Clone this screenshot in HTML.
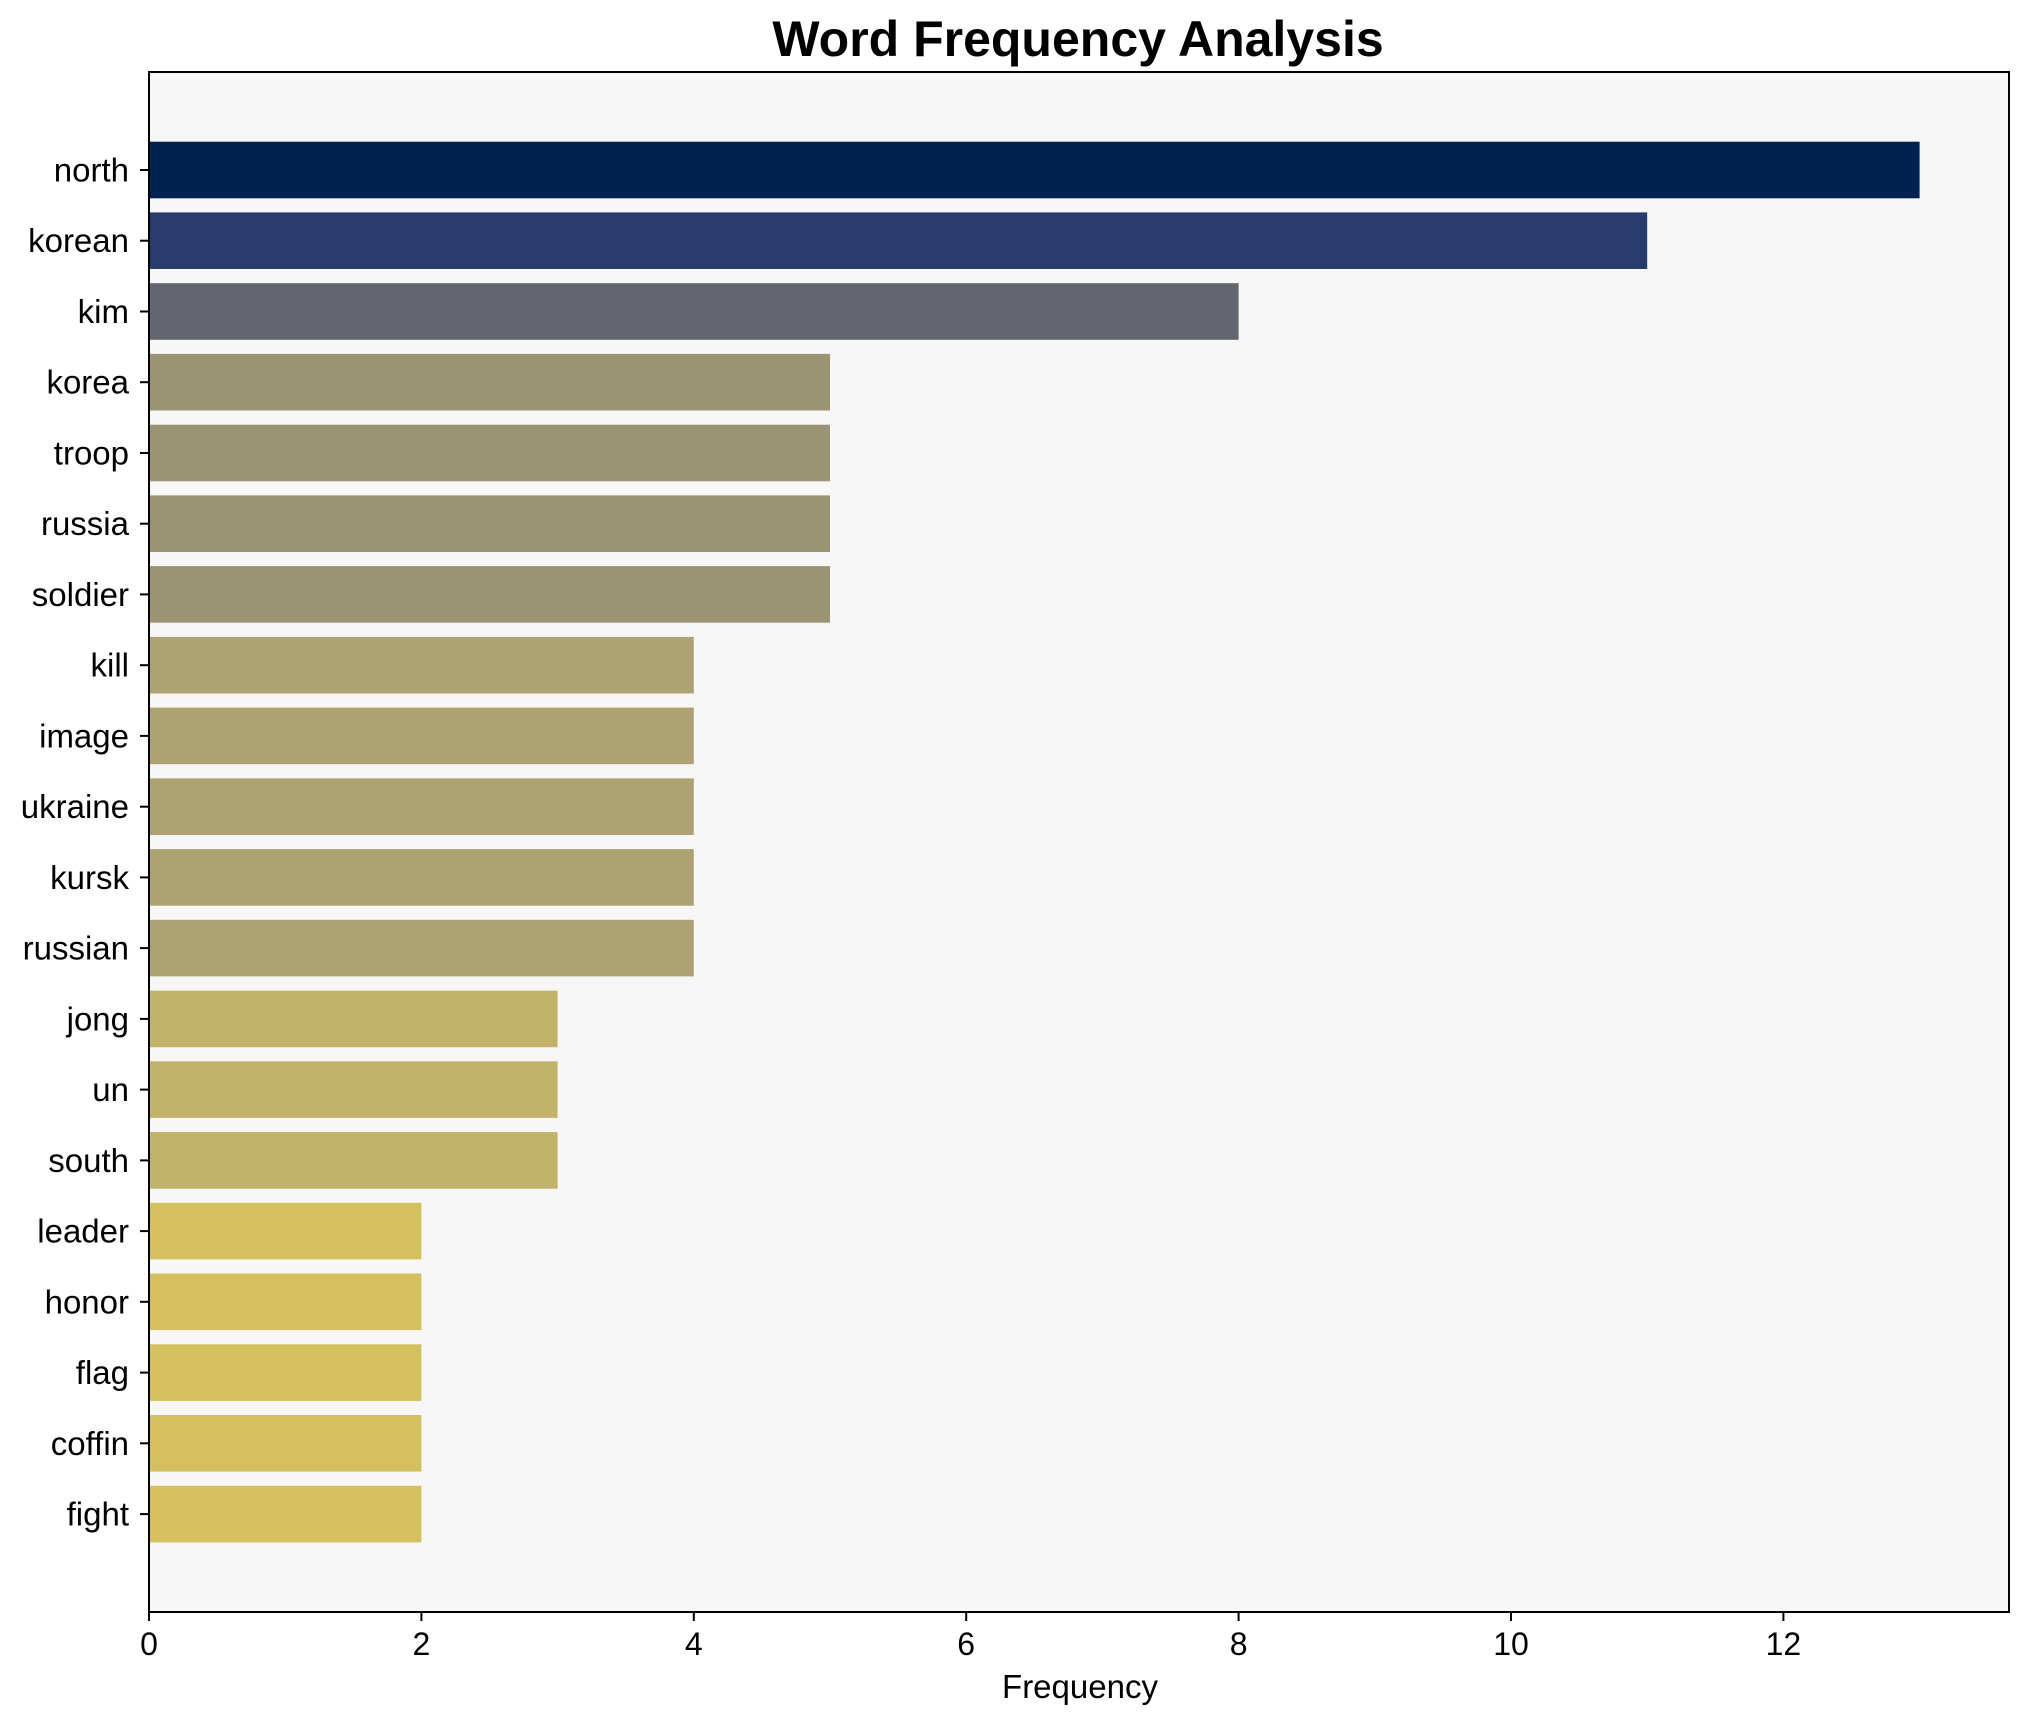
<!DOCTYPE html>
<html><head><meta charset="utf-8"><style>body{margin:0;background:#fff}</style></head><body>
<svg width="2028" height="1722" xmlns="http://www.w3.org/2000/svg" font-family="Liberation Sans, sans-serif">
<rect width="2028" height="1722" fill="#fff"/>
<rect x="149" y="72" width="1860" height="1540" fill="#f7f7f7"/>
<g>
<rect x="149" y="141.7" width="1770.6" height="56.6" fill="#012251"/>
<rect x="149" y="212.4" width="1498.2" height="56.6" fill="#273c6c"/>
<rect x="149" y="283.2" width="1089.6" height="56.6" fill="#63656f"/>
<rect x="149" y="353.9" width="681" height="56.6" fill="#9a9475"/>
<rect x="149" y="424.7" width="681" height="56.6" fill="#9a9475"/>
<rect x="149" y="495.4" width="681" height="56.6" fill="#9a9475"/>
<rect x="149" y="566.1" width="681" height="56.6" fill="#9a9475"/>
<rect x="149" y="636.9" width="544.8" height="56.6" fill="#ada271"/>
<rect x="149" y="707.6" width="544.8" height="56.6" fill="#ada271"/>
<rect x="149" y="778.4" width="544.8" height="56.6" fill="#ada271"/>
<rect x="149" y="849.1" width="544.8" height="56.6" fill="#ada271"/>
<rect x="149" y="919.8" width="544.8" height="56.6" fill="#ada271"/>
<rect x="149" y="990.6" width="408.6" height="56.6" fill="#c2b26a"/>
<rect x="149" y="1061.3" width="408.6" height="56.6" fill="#c2b26a"/>
<rect x="149" y="1132.1" width="408.6" height="56.6" fill="#c2b26a"/>
<rect x="149" y="1202.8" width="272.4" height="56.6" fill="#d4c05e"/>
<rect x="149" y="1273.5" width="272.4" height="56.6" fill="#d4c05e"/>
<rect x="149" y="1344.3" width="272.4" height="56.6" fill="#d4c05e"/>
<rect x="149" y="1415" width="272.4" height="56.6" fill="#d4c05e"/>
<rect x="149" y="1485.8" width="272.4" height="56.6" fill="#d4c05e"/>
</g>
<g stroke="#000" stroke-width="2">
<line x1="140" x2="149" y1="170" y2="170"/><line x1="140" x2="149" y1="240.7" y2="240.7"/><line x1="140" x2="149" y1="311.5" y2="311.5"/><line x1="140" x2="149" y1="382.2" y2="382.2"/><line x1="140" x2="149" y1="453" y2="453"/><line x1="140" x2="149" y1="523.7" y2="523.7"/><line x1="140" x2="149" y1="594.4" y2="594.4"/><line x1="140" x2="149" y1="665.2" y2="665.2"/><line x1="140" x2="149" y1="735.9" y2="735.9"/><line x1="140" x2="149" y1="806.7" y2="806.7"/><line x1="140" x2="149" y1="877.4" y2="877.4"/><line x1="140" x2="149" y1="948.1" y2="948.1"/><line x1="140" x2="149" y1="1018.9" y2="1018.9"/><line x1="140" x2="149" y1="1089.6" y2="1089.6"/><line x1="140" x2="149" y1="1160.4" y2="1160.4"/><line x1="140" x2="149" y1="1231.1" y2="1231.1"/><line x1="140" x2="149" y1="1301.8" y2="1301.8"/><line x1="140" x2="149" y1="1372.6" y2="1372.6"/><line x1="140" x2="149" y1="1443.3" y2="1443.3"/><line x1="140" x2="149" y1="1514.1" y2="1514.1"/>
<line x1="149" x2="149" y1="1612" y2="1621"/><line x1="421.4" x2="421.4" y1="1612" y2="1621"/><line x1="693.8" x2="693.8" y1="1612" y2="1621"/><line x1="966.2" x2="966.2" y1="1612" y2="1621"/><line x1="1238.6" x2="1238.6" y1="1612" y2="1621"/><line x1="1511" x2="1511" y1="1612" y2="1621"/><line x1="1783.4" x2="1783.4" y1="1612" y2="1621"/>
</g>
<g font-size="33" text-anchor="end">
<text x="129" y="181.5">north</text><text x="129" y="252.2">korean</text><text x="129" y="323">kim</text><text x="129" y="393.7">korea</text><text x="129" y="464.5">troop</text><text x="129" y="535.2">russia</text><text x="129" y="605.9">soldier</text><text x="129" y="676.7">kill</text><text x="129" y="747.4">image</text><text x="129" y="818.2">ukraine</text><text x="129" y="888.9">kursk</text><text x="129" y="959.6">russian</text><text x="129" y="1030.4">jong</text><text x="129" y="1101.1">un</text><text x="129" y="1171.9">south</text><text x="129" y="1242.6">leader</text><text x="129" y="1313.3">honor</text><text x="129" y="1384.1">flag</text><text x="129" y="1454.8">coffin</text><text x="129" y="1525.6">fight</text>
</g>
<g font-size="32" text-anchor="middle">
<text x="149" y="1655">0</text><text x="421.4" y="1655">2</text><text x="693.8" y="1655">4</text><text x="966.2" y="1655">6</text><text x="1238.6" y="1655">8</text><text x="1511" y="1655">10</text><text x="1783.4" y="1655">12</text>
</g>
<rect x="149" y="72" width="1860" height="1540" fill="none" stroke="#000" stroke-width="2"/>
<text x="1078" y="56" text-anchor="middle" font-size="50" font-weight="bold">Word Frequency Analysis</text>
<text x="1080" y="1698" text-anchor="middle" font-size="33">Frequency</text>
</svg>
</body></html>
